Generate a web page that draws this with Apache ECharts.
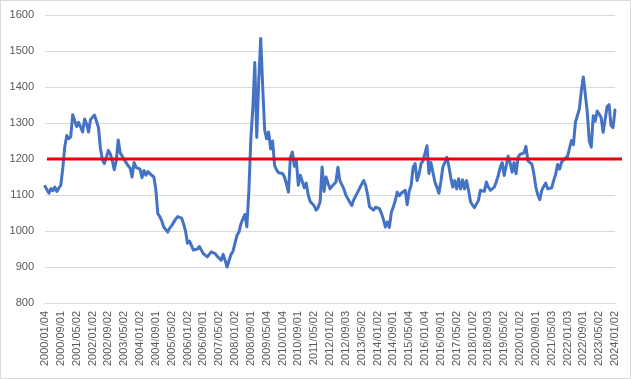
<!DOCTYPE html>
<html>
<head>
<meta charset="utf-8">
<script src="https://cdn.jsdelivr.net/npm/echarts@6/dist/echarts.min.js"></script>
<style>
html,body{margin:0;padding:0;background:#fff;}
#chart{width:631px;height:379px;box-sizing:border-box;border:1px solid #d9d9d9;}
</style>
</head>
<body>
<div id="chart"></div>
<script>
// Tick labels shown on the x axis (every 8th month)
const tickLabels = [
  "2000/01/04","2000/09/01","2001/05/02","2002/01/02","2002/09/02","2003/05/02",
  "2004/01/02","2004/09/01","2005/05/02","2006/01/02","2006/09/01","2007/05/02",
  "2008/01/02","2008/09/01","2009/05/04","2010/01/04","2010/09/01","2011/05/02",
  "2012/01/02","2012/09/03","2013/05/02","2014/01/02","2014/09/01","2015/05/04",
  "2016/01/04","2016/09/01","2017/05/02","2018/01/02","2018/09/03","2019/05/02",
  "2020/01/02","2020/09/01","2021/05/03","2022/01/03","2022/09/01","2023/05/02",
  "2024/01/02"
];
const startYear = 2000;
const labelEvery = 8;

// Monthly values, 2000/01 .. 2024/01
const values2000_2003 = [
  1124,1128,1105,1118,1112,1122,1110,1112,1128,1175,1235,1265,
  1256,1262,1323,1318,1290,1302,1298,1275,1311,1298,1275,1310,
  1316,1322,1326,1288,1230,1198,1187,1205,1224,1214,1195,1170,
  1195,1253,1217,1208,1198,1190,1181,1175,1150,1190,1177,1173
];
const values2004_2007 = [
  1172,1148,1168,1155,1165,1159,1155,1150,1115,1048,1040,1028,
  1011,1015,997,1008,1015,1024,1033,1040,1041,1036,1020,1000,
  966,972,968,947,947,950,957,952,937,933,928,932,
  942,942,937,930,926,919,935,919,900,918,935,944
];
const values2008_2011 = [
  947,988,997,1020,1034,1046,1012,1110,1255,1340,1468,1260,
  1420,1535,1400,1280,1256,1275,1228,1250,1182,1170,1162,1160,
  1160,1150,1130,1108,1205,1219,1180,1195,1127,1155,1160,1120,
  1133,1100,1082,1077,1070,1058,1065,1081,1178,1110,1150,1133
];
const values2012_2015 = [
  1117,1124,1128,1136,1177,1140,1142,1117,1100,1090,1080,1071,
  1087,1083,1108,1103,1130,1140,1127,1100,1067,1062,1058,1066,
  1064,1062,1049,1032,1011,1025,1010,1052,1067,1085,1108,1098,
  1105,1105,1113,1073,1110,1127,1177,1187,1140,1158,1187,1195
];
const values2016_2019 = [
  1200,1237,1160,1190,1163,1136,1122,1105,1136,1177,1190,1205,
  1181,1149,1122,1140,1117,1145,1117,1142,1117,1140,1113,1081,
  1072,1065,1069,1085,1113,1112,1110,1136,1122,1113,1118,1122,
  1136,1154,1177,1190,1154,1180,1208,1190,1163,1190,1159,1204
];
const values2020_2024 = [
  1213,1217,1217,1235,1195,1190,1186,1159,1122,1100,1087,1113,
  1124,1133,1117,1113,1120,1140,1157,1185,1172,1191,1198,1200,
  1207,1212,1251,1240,1302,1305,1339,1390,1428,1425,1330,1250,
  1233,1320,1305,1333,1325,1315,1274,1310,1345,1351,1293,1287,
  1336
];
const thresholdValue = 1200;

const values = [].concat(values2000_2003, values2004_2007, values2008_2011,
  values2012_2015, values2016_2019, values2020_2024);

const categories = values.map((v, i) => {
  if (i % labelEvery === 0 && tickLabels[i / labelEvery]) return tickLabels[i / labelEvery];
  const y = startYear + Math.floor(i / 12);
  const m = (i % 12) + 1;
  return y + "/" + (m < 10 ? "0" + m : m) + "/01";
});

const chart = echarts.init(document.getElementById('chart'), null, {renderer: 'canvas'});
const font = 'Liberation Sans, Arial, sans-serif';
chart.setOption({
  animation: false,
  backgroundColor: '#ffffff',
  grid: [
    {left: 44, right: 15, top: 14, bottom: 75, containLabel: false},
    {left: 46, right: 8, top: 14, bottom: 75, containLabel: false}
  ],
  xAxis: [
    {
      type: 'category', gridIndex: 0, data: categories, boundaryGap: false,
      axisLine: {show: true, lineStyle: {color: '#d9d9d9', width: 1}},
      axisTick: {show: false},
      axisLabel: {interval: labelEvery - 1, rotate: 90, color: '#595959', fontSize: 11, fontFamily: font, margin: 8},
      splitLine: {show: false}
    },
    {
      type: 'category', gridIndex: 1, data: ['a', 'b'], boundaryGap: false, show: false
    }
  ],
  yAxis: [
    {
      type: 'value', gridIndex: 0, min: 800, max: 1600, interval: 100,
      axisLine: {show: false}, axisTick: {show: false},
      axisLabel: {color: '#595959', fontSize: 11, fontFamily: font, margin: 11,
        formatter: function (v) { return String(v); }},
      splitLine: {lineStyle: {color: '#d9d9d9', width: 1}}
    },
    {
      type: 'value', gridIndex: 1, min: 800, max: 1600, show: false, splitLine: {show: false}
    }
  ],
  series: [
    {
      type: 'line', xAxisIndex: 0, yAxisIndex: 0, data: values,
      showSymbol: false, smooth: false,
      lineStyle: {color: '#4472C4', width: 3, join: 'round', cap: 'round'},
      z: 2
    },
    {
      type: 'line', xAxisIndex: 1, yAxisIndex: 1, data: [thresholdValue, thresholdValue],
      showSymbol: false,
      lineStyle: {color: '#e8000b', width: 3},
      z: 3
    }
  ]
});
</script>
</body>
</html>
